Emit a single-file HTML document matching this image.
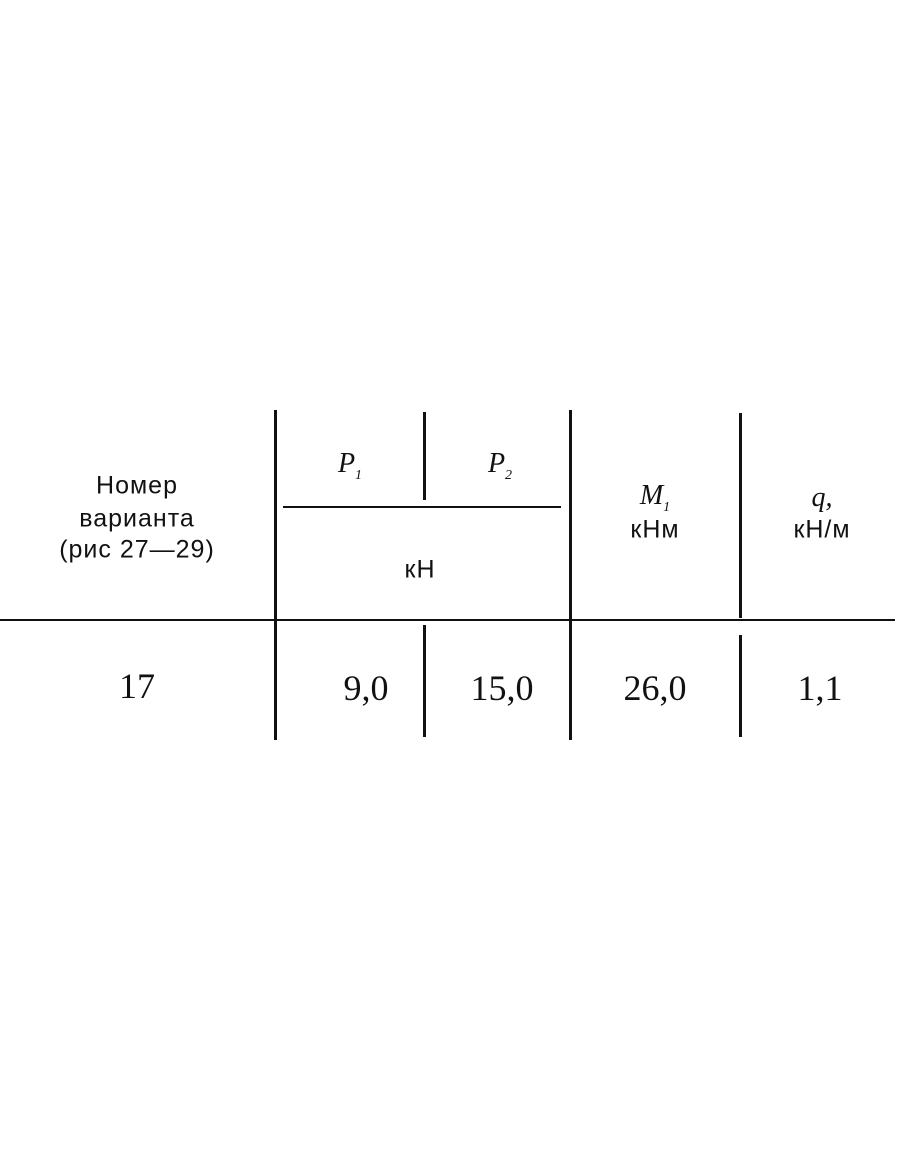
<!DOCTYPE html>
<html><head><meta charset="utf-8"><style>
html,body{margin:0;padding:0;background:#fff;}
body{width:910px;height:1155px;position:relative;overflow:hidden;font-family:"Liberation Sans",sans-serif;color:#111;}
.v{position:absolute;width:3px;background:#111;}
.h{position:absolute;height:2px;background:#111;}
.t{position:absolute;transform:translate(-50%,-50%);white-space:nowrap;}
.s{font-size:25px;letter-spacing:1px;}
.i{font-family:"Liberation Serif",serif;font-style:italic;font-size:28px;}
.n{font-family:"Liberation Serif",serif;font-size:36px;}
sub{font-size:14px;}
</style></head><body>
<div class="v" style="left:274px;top:410px;height:330px"></div>
<div class="v" style="left:423px;top:412px;height:88px"></div>
<div class="v" style="left:423px;top:625px;height:112px"></div>
<div class="v" style="left:569px;top:410px;height:330px"></div>
<div class="v" style="left:739px;top:413px;height:205px"></div>
<div class="v" style="left:739px;top:635px;height:102px"></div>
<div class="h" style="left:283px;top:506px;width:278px"></div>
<div class="h" style="left:0;top:619px;width:895px"></div>

<div class="t s" style="left:137px;top:486px">Номер</div>
<div class="t s" style="left:137px;top:519px">варианта</div>
<div class="t s" style="left:137px;top:550px">(рис 27—29)</div>
<div class="t i" style="left:350px;top:466px">P<sub>1</sub></div>
<div class="t i" style="left:500px;top:466px">P<sub>2</sub></div>
<div class="t s" style="left:420px;top:570px">кН</div>
<div class="t i" style="left:655px;top:498px">M<sub>1</sub></div>
<div class="t s" style="left:655px;top:530px">кНм</div>
<div class="t i" style="left:822px;top:498px">q,</div>
<div class="t s" style="left:822px;top:530px">кН/м</div>

<div class="t n" style="left:137px;top:686px">17</div>
<div class="t n" style="left:366px;top:688px">9,0</div>
<div class="t n" style="left:502px;top:688px">15,0</div>
<div class="t n" style="left:655px;top:688px">26,0</div>
<div class="t n" style="left:820px;top:688px">1,1</div>
</body></html>
